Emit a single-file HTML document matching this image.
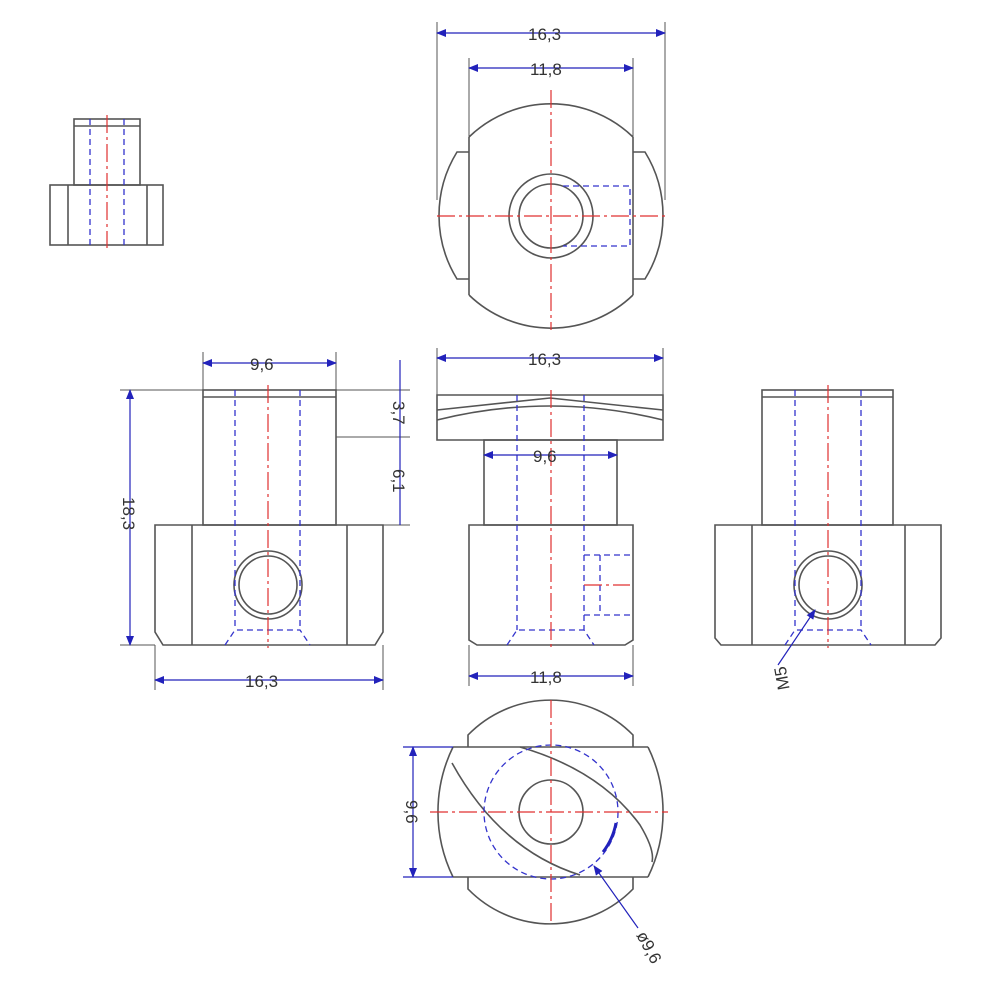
<!DOCTYPE html>
<html><head><meta charset="utf-8"><style>
html,body{margin:0;padding:0;background:#fff}
svg{display:block}
text{font-family:"Liberation Sans",sans-serif;font-size:17px;fill:#333}
.k{stroke:#555;stroke-width:1.6;fill:none}
.b{stroke:#3333cc;stroke-width:1.3;fill:none;stroke-dasharray:6 4}
.r{stroke:#e03030;stroke-width:1.2;fill:none;stroke-dasharray:18 4 3 4}
.d{stroke:#2222bb;stroke-width:1.2;fill:none}
.e{stroke:#555;stroke-width:1;fill:none}
</style></head><body>
<svg width="1000" height="1000" viewBox="0 0 1000 1000" xmlns="http://www.w3.org/2000/svg">
<defs><marker id="a" markerWidth="10" markerHeight="8" refX="9" refY="4" orient="auto-start-reverse" markerUnits="userSpaceOnUse"><path d="M0,0 L10,4 L0,8z" fill="#2222bb"/></marker></defs>

<!-- small top-left -->
<rect class="k" x="74" y="119" width="66" height="66"/>
<line class="k" x1="74" y1="126" x2="140" y2="126"/>
<rect class="k" x="50" y="185" width="113" height="60"/>
<line class="k" x1="68" y1="185" x2="68" y2="245"/><line class="k" x1="147" y1="185" x2="147" y2="245"/>
<line class="b" x1="90" y1="119" x2="90" y2="245"/><line class="b" x1="124" y1="119" x2="124" y2="245"/>
<line class="r" x1="107" y1="115" x2="107" y2="248"/>

<!-- top view -->
<path class="k" d="M469,137 A118,118 0 0 1 633,137 M469,295 A118,118 0 0 0 633,295"/>
<line class="k" x1="469" y1="137" x2="469" y2="295"/><line class="k" x1="633" y1="137" x2="633" y2="295"/>
<path class="k" d="M469,152 L457,152 A121,121 0 0 0 457,279 L469,279 M633,152 L645,152 A121,121 0 0 1 645,279 L633,279"/>
<circle class="k" cx="551" cy="216" r="42"/><circle class="k" cx="551" cy="216" r="32"/>
<path class="b" d="M563,186 L630,186 L630,246 L563,246"/>
<line class="r" x1="551" y1="90" x2="551" y2="330"/><line class="r" x1="437" y1="216" x2="665" y2="216"/>
<line class="e" x1="437" y1="22" x2="437" y2="200"/><line class="e" x1="665" y1="22" x2="665" y2="200"/>
<line class="e" x1="469" y1="58" x2="469" y2="137"/><line class="e" x1="633" y1="58" x2="633" y2="137"/>
<line class="d" x1="437" y1="33" x2="665" y2="33" marker-start="url(#a)" marker-end="url(#a)"/>
<line class="d" x1="469" y1="68" x2="633" y2="68" marker-start="url(#a)" marker-end="url(#a)"/>
<text x="528" y="40">16,3</text><text x="530" y="75">11,8</text>

<!-- left front view -->
<rect class="k" x="203" y="390" width="133" height="135"/>
<line class="k" x1="203" y1="397" x2="336" y2="397"/>
<path class="k" d="M155,525 L383,525 L383,632 L375,645 L163,645 L155,632 Z"/>
<line class="k" x1="192" y1="525" x2="192" y2="645"/><line class="k" x1="347" y1="525" x2="347" y2="645"/>
<circle class="k" cx="268" cy="585" r="34"/><circle class="k" cx="268" cy="585" r="29"/>
<line class="b" x1="235" y1="390" x2="235" y2="630"/><line class="b" x1="300" y1="390" x2="300" y2="630"/>
<path class="b" d="M225,645 L235,630 L300,630 L310,645"/>
<line class="r" x1="268" y1="385" x2="268" y2="648"/>
<line class="e" x1="203" y1="352" x2="203" y2="390"/><line class="e" x1="336" y1="352" x2="336" y2="390"/>
<line class="d" x1="203" y1="363" x2="336" y2="363" marker-start="url(#a)" marker-end="url(#a)"/>
<text x="250" y="370">9,6</text>
<line class="e" x1="120" y1="390" x2="203" y2="390"/><line class="e" x1="120" y1="645" x2="155" y2="645"/>
<line class="d" x1="130" y1="390" x2="130" y2="645" marker-start="url(#a)" marker-end="url(#a)"/>
<text transform="translate(123,517) rotate(90)" x="-20" y="0">18,3</text>
<line class="e" x1="336" y1="390" x2="410" y2="390"/><line class="e" x1="336" y1="437" x2="410" y2="437"/><line class="e" x1="383" y1="525" x2="410" y2="525"/>
<line class="d" x1="400" y1="360" x2="400" y2="525"/>
<text transform="translate(393,413) rotate(90)" x="-12" y="0">3,7</text>
<text transform="translate(393,481) rotate(90)" x="-12" y="0">6,1</text>
<line class="e" x1="155" y1="645" x2="155" y2="690"/><line class="e" x1="383" y1="645" x2="383" y2="690"/>
<line class="d" x1="155" y1="680" x2="383" y2="680" marker-start="url(#a)" marker-end="url(#a)"/>
<text x="245" y="687">16,3</text>

<!-- middle view -->
<path class="k" d="M437,395 L663,395 L663,440 L437,440 Z"/>
<path class="k" d="M437,420 Q550,392 663,420 M437,410 L550,398 L663,410"/>
<rect class="k" x="484" y="440" width="133" height="85"/>
<path class="k" d="M469,525 L633,525 L633,640 L625,645 L477,645 L469,640 Z"/>
<line class="b" x1="517" y1="395" x2="517" y2="630"/><line class="b" x1="584" y1="395" x2="584" y2="630"/>
<path class="b" d="M507,645 L517,630 L584,630 L594,645"/>
<path class="b" d="M584,555 L630,555 M584,615 L630,615 M600,555 L600,615"/>
<line class="r" x1="584" y1="585" x2="630" y2="585"/>
<line class="r" x1="551" y1="390" x2="551" y2="648"/>
<line class="e" x1="437" y1="348" x2="437" y2="395"/><line class="e" x1="663" y1="348" x2="663" y2="395"/>
<line class="d" x1="437" y1="358" x2="663" y2="358" marker-start="url(#a)" marker-end="url(#a)"/>
<text x="528" y="365">16,3</text>
<line class="d" x1="484" y1="455" x2="617" y2="455" marker-start="url(#a)" marker-end="url(#a)"/>
<text x="533" y="462">9,6</text>
<line class="e" x1="469" y1="645" x2="469" y2="686"/><line class="e" x1="633" y1="645" x2="633" y2="686"/>
<line class="d" x1="469" y1="676" x2="633" y2="676" marker-start="url(#a)" marker-end="url(#a)"/>
<text x="530" y="683">11,8</text>

<!-- right view -->
<rect class="k" x="762" y="390" width="131" height="135"/>
<line class="k" x1="762" y1="397" x2="893" y2="397"/>
<path class="k" d="M715,525 L941,525 L941,638 L935,645 L721,645 L715,638 Z"/>
<line class="k" x1="752" y1="525" x2="752" y2="645"/><line class="k" x1="905" y1="525" x2="905" y2="645"/>
<circle class="k" cx="828" cy="585" r="34"/><circle class="k" cx="828" cy="585" r="29"/>
<line class="b" x1="795" y1="390" x2="795" y2="630"/><line class="b" x1="861" y1="390" x2="861" y2="630"/>
<path class="b" d="M785,645 L795,630 L861,630 L871,645"/>
<line class="r" x1="828" y1="385" x2="828" y2="648"/>
<line class="d" x1="778" y1="665" x2="815" y2="610" marker-end="url(#a)"/>
<text transform="translate(770,670) rotate(-100)" x="-22" y="16">M5</text>

<!-- bottom view -->
<path class="k" d="M468,747 L468,735 A115,115 0 0 1 633,735 L633,747 M468,877 L468,889 A115,115 0 0 0 633,889 L633,877"/>
<line class="k" x1="453" y1="747" x2="648" y2="747"/><line class="k" x1="453" y1="877" x2="648" y2="877"/>
<path class="k" d="M453,747 A148,148 0 0 0 453,877 M648,747 A148,148 0 0 1 648,877"/>
<path class="k" d="M452,763 Q500,850 580,875"/>
<path class="k" d="M520,747 Q600,770 640,825 Q655,850 652,862"/>
<circle class="k" cx="551" cy="812" r="32"/>
<circle class="b" cx="551" cy="812" r="67"/>
<path d="M616,823 A67,67 0 0 1 603,852" stroke="#2222bb" stroke-width="3" fill="none"/>
<line class="r" x1="551" y1="700" x2="551" y2="925"/><line class="r" x1="430" y1="812" x2="668" y2="812"/>
<line class="d" x1="403" y1="747" x2="453" y2="747"/><line class="d" x1="403" y1="877" x2="453" y2="877"/>
<line class="d" x1="413" y1="747" x2="413" y2="877" marker-start="url(#a)" marker-end="url(#a)"/>
<text transform="translate(406,812) rotate(90)" x="-12" y="0">9,6</text>
<line class="d" x1="638" y1="928" x2="594" y2="866" marker-end="url(#a)"/>
<text transform="translate(636,935) rotate(62)" x="0" y="0">ø9,6</text>
</svg>
</body></html>
